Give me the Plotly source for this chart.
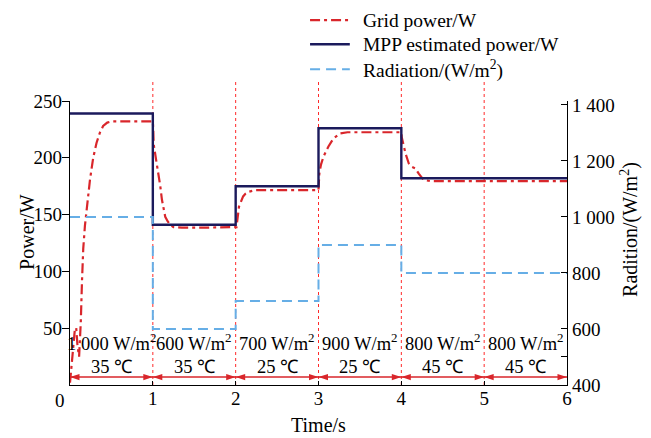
import plotly.graph_objects as go

# ---------------- data ----------------
seg_time = [0, 1, 2, 3, 4, 5, 6]
mpp_power = [239, 141, 175, 226, 182, 182, 182]
radiation = [1000, 600, 700, 900, 800, 800, 800]

grid_t = [0, 0.03, 0.06, 0.075, 0.09, 0.11, 0.13, 0.145, 0.16, 0.18, 0.2, 0.24, 0.28, 0.32,
          0.36, 0.40, 0.45, 0.5, 0.7, 0.9, 1.0,
          1.005, 1.01, 1.04, 1.07, 1.09, 1.11, 1.13, 1.15, 1.18, 1.21, 1.25, 1.35, 1.6, 1.8, 2.0,
          2.01, 2.04, 2.07, 2.09, 2.12, 2.15, 2.23, 2.5, 2.8, 3.0,
          3.01, 3.03, 3.06, 3.09, 3.12, 3.18, 3.26, 3.35, 3.5, 3.8, 4.0,
          4.005, 4.02, 4.05, 4.09, 4.13, 4.17, 4.21, 4.27, 4.35, 4.7, 5.0, 5.5, 6.0]
grid_p = [2, 25, 50, 50, 35, 25, 55, 92, 120, 140, 155, 180, 200, 213,
          222, 228, 231, 232, 232, 232, 232,
          225, 212, 198, 186, 175, 163, 155, 148, 144, 141, 139, 138.5, 138.5, 138.5, 138.5,
          139, 157, 163, 166, 168.5, 170, 171.5, 171.5, 171.5, 171.5,
          186, 194, 201, 206, 210, 217, 221.5, 222.5, 222.5, 222.5, 222.5,
          218, 212.7, 204, 195, 192, 190.7, 186, 180.5, 179.5, 179.5, 179.5, 179.5, 179.5]

series_names = ["Grid power/W", "MPP estimated power/W", "Radiation/(W/m<sup>2</sup>)"]
seg_rad_labels = ["1 000 W/m<sup>2</sup>", "600 W/m<sup>2</sup>", "700 W/m<sup>2</sup>",
                  "900 W/m<sup>2</sup>", "800 W/m<sup>2</sup>", "800 W/m<sup>2</sup>"]
seg_temp_labels = ["35 ℃", "35 ℃", "25 ℃", "25 ℃", "45 ℃", "45 ℃"]
marker_times = [1, 2, 3, 4, 5]

x_ticks = [1, 2, 3, 4, 5, 6]
left_ticks = [50, 100, 150, 200, 250]
right_ticks = [400, 500, 600, 800, 1000, 1200, 1400]
right_text = ["400", "", "600", "800", "1 000", "1 200", "1 400"]

FONT = "Liberation Serif"
RED = "#d9262b"
NAVY = "#1b1a5c"
BLUE = "#66aee6"
RED_DASH = "10px,4px,3px,4px"
BLUE_DASH = "10px,6px"
ARROW_LEVEL = 7      # height of the segment arrows, in W
RAD_TEXT_LEVEL = 38
TEMP_TEXT_LEVEL = 16

fig = go.Figure()
fig.add_trace(go.Scatter(x=grid_t, y=grid_p, mode="lines", name=series_names[0],
                         line=dict(color=RED, width=2.2, dash=RED_DASH)))
fig.add_trace(go.Scatter(x=seg_time, y=mpp_power, mode="lines", name=series_names[1],
                         line=dict(color=NAVY, width=2.4, shape="hv")))
fig.add_trace(go.Scatter(x=seg_time, y=radiation, mode="lines", name=series_names[2],
                         yaxis="y2", line=dict(color=BLUE, width=2, dash=BLUE_DASH, shape="hv")))

# segment double arrows along the bottom
arrow_x, arrow_angle = [], []
for i in range(len(seg_time) - 1):
    arrow_x += [seg_time[i], seg_time[i + 1]]
    arrow_angle += [-90, 90]
fig.add_trace(go.Scatter(x=[seg_time[0], seg_time[-1]], y=[ARROW_LEVEL, ARROW_LEVEL], mode="lines",
                         line=dict(color=RED, width=1.5), showlegend=False, hoverinfo="skip",
                         cliponaxis=False))
fig.add_trace(go.Scatter(x=arrow_x, y=[ARROW_LEVEL] * len(arrow_x), mode="markers",
                         marker=dict(symbol="arrow", size=10, angle=arrow_angle, color=RED,
                                     line=dict(width=0)),
                         showlegend=False, hoverinfo="skip", cliponaxis=False))

shapes = []
for t in marker_times:
    shapes.append(dict(type="line", xref="x", yref="paper", x0=t, x1=t, y0=0, y1=1.067,
                       line=dict(color="#ff2a2a", width=1, dash="dot"), layer="below"))

annotations = []
for i in range(6):
    annotations.append(dict(x=i + 0.5, y=RAD_TEXT_LEVEL, xref="x", yref="y", text=seg_rad_labels[i],
                            showarrow=False, font=dict(family=FONT, size=18.5, color="black")))
    annotations.append(dict(x=i + 0.5, y=TEMP_TEXT_LEVEL, xref="x", yref="y", text=seg_temp_labels[i],
                            showarrow=False, font=dict(family=FONT, size=18.5, color="black")))

# legend drawn in the top area (placed like the reference)
legend_styles = [dict(color=RED, width=2.2, dash=RED_DASH),
                 dict(color=NAVY, width=2.4),
                 dict(color=BLUE, width=2, dash=BLUE_DASH)]
legend_rows = [1.285, 1.200, 1.112]
for name, style, yrow in zip(series_names, legend_styles, legend_rows):
    shapes.append(dict(type="line", xref="paper", yref="paper", x0=0.483, x1=0.563,
                       y0=yrow, y1=yrow, line=style))
    annotations.append(dict(x=0.585, y=yrow, xref="paper", yref="paper", xanchor="left",
                            yanchor="middle", text=name, showarrow=False,
                            font=dict(family=FONT, size=19.5, color="black")))

# x tick label "0" (slightly left of the origin in the reference)
annotations.append(dict(x=-0.02, y=0, xref="paper", yref="paper", xanchor="center",
                        yanchor="middle", yshift=-15,
                        text="0", showarrow=False, font=dict(family=FONT, size=19, color="black")))
# axis titles
annotations.append(dict(x=0.5, y=0, xref="paper", yref="paper", xanchor="center", yanchor="middle",
                        yshift=-40, text="Time/s", showarrow=False, font=dict(family=FONT, size=20)))
annotations.append(dict(x=0, y=0.539, xref="paper", yref="paper", xanchor="center", yanchor="middle",
                        xshift=-43, text="Power/W", textangle=-90, showarrow=False,
                        font=dict(family=FONT, size=20)))
annotations.append(dict(x=1, y=0.546, xref="paper", yref="paper", xanchor="center", yanchor="middle",
                        xshift=63, text="Radition/(W/m<sup>2</sup>)", textangle=-90, showarrow=False,
                        font=dict(family=FONT, size=20)))

fig.update_layout(
    width=651, height=438,
    margin=dict(l=70, r=84, t=101, b=53, autoexpand=False),
    paper_bgcolor="white", plot_bgcolor="white",
    font=dict(family=FONT, size=19, color="black"),
    showlegend=False,
    xaxis=dict(range=[0, 6], tickvals=x_ticks, ticks="inside", ticklen=4, tickcolor="black",
               showline=True, linecolor="black", linewidth=1.3, showgrid=False, zeroline=False,
               ticklabelstandoff=-4, automargin=False),
    yaxis=dict(range=[0, 250], tickvals=left_ticks, ticks="outside", ticklen=7, tickcolor="black",
               showline=True, linecolor="black", linewidth=1.3, showgrid=False, zeroline=False,
               ticklabelstandoff=-4, automargin=False),
    yaxis2=dict(range=[400, 1414], tickvals=right_ticks, ticktext=right_text, overlaying="y",
                side="right", ticks="inside", ticklen=6, tickcolor="black",
                showline=True, linecolor="black", linewidth=1.3, showgrid=False, zeroline=False,
                automargin=False),
    shapes=shapes, annotations=annotations,
)

fig.write_html("out.html")
